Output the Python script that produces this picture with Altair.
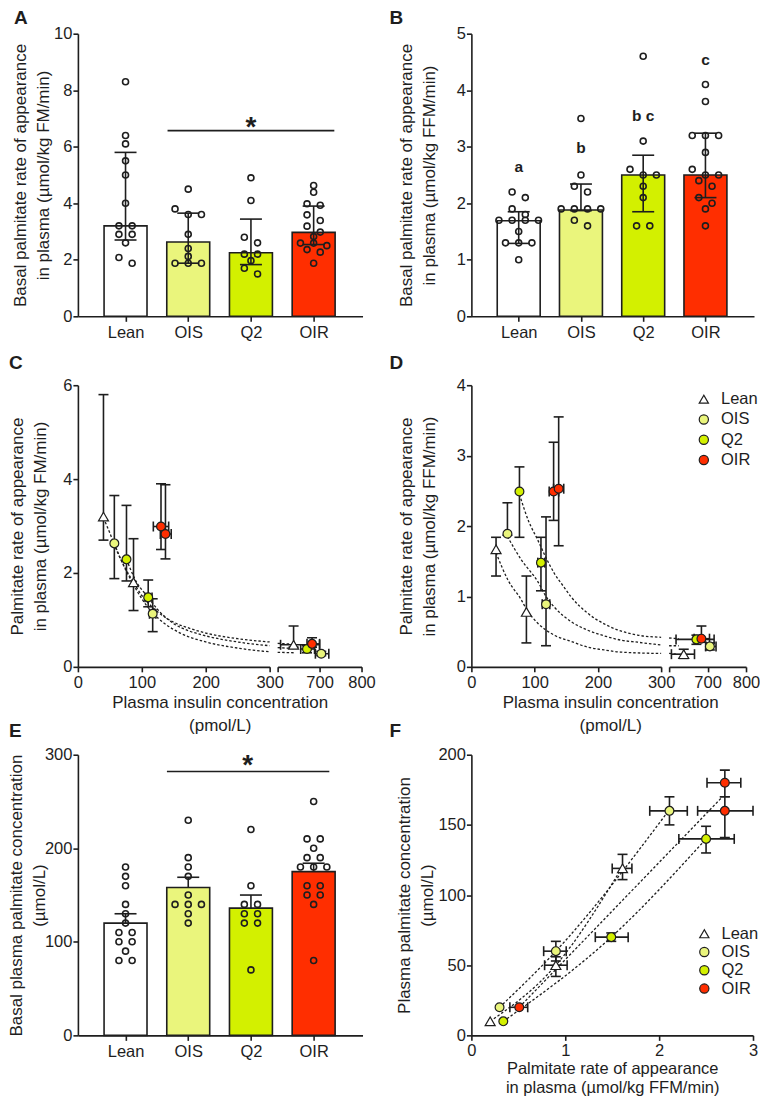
import altair as alt
import pandas as pd

# ------------------------------------------------------------------ data
groups = ["Lean", "OIS", "Q2", "OIR"]
group_fill = ["#FFFFFF", "#EAF57C", "#D3F000", "#FF2E00"]
group_shape = ["triangle-up", "circle", "circle", "circle"]
group_marker_size = [100, 78, 78, 78]

# Panel A: basal palmitate Ra (umol/kg FM/min), individual values, median + IQR
a_lean = [8.3, 6.4, 6.1, 5.5, 5.0, 4.0, 3.2, 3.2, 2.9, 2.9, 2.6, 2.08, 1.88]
a_ois = [4.5, 3.8, 3.6, 3.6, 2.9, 2.4, 2.12, 1.88, 1.88, 1.88]
a_q2 = [4.9, 4.1, 2.8, 2.6, 2.2, 2.2, 1.97, 1.7, 1.5]
a_oir = [4.63, 4.39, 3.98, 3.93, 3.59, 3.39, 3.19, 2.98, 2.82, 2.59, 2.59, 2.5, 2.36, 2.27, 1.88]
a_median = [3.2, 2.63, 2.25, 2.97]
a_q1 = [2.7, 1.88, 1.83, 2.54]
a_q3 = [5.8, 3.65, 3.44, 3.9]
a_sig = [0.67, 3.33, 6.57]     # x from, x to, y
a_star = [2.0, 6.95]

# Panel B: basal palmitate Ra (umol/kg FFM/min)
b_lean = [2.2, 2.1, 1.9, 1.8, 1.7, 1.7, 1.7, 1.7, 1.5, 1.3, 1.3, 1.3, 1.0]
b_ois = [3.5, 2.5, 2.3, 2.2, 1.9, 1.9, 1.9, 1.9, 1.7, 1.6]
b_q2 = [4.6, 3.1, 2.6, 2.5, 2.5, 2.3, 2.1, 1.6, 1.6]
b_oir = [4.1, 3.8, 3.2, 3.2, 3.2, 2.9, 2.6, 2.5, 2.5, 2.4, 2.3, 2.1, 2.0, 1.9, 1.6]
b_median = [1.69, 1.88, 2.5, 2.5]
b_q1 = [1.29, 1.87, 1.85, 2.1]
b_q3 = [1.85, 2.34, 2.85, 3.24]
b_letters = ["a", "b", "b c", "c"]
b_letter_y = [2.65, 2.97, 3.55, 4.53]

# Panel C: Ra (FM) vs plasma insulin, median and IQR
c_group = ["Lean", "Lean", "Lean", "OIS", "OIS", "OIS", "Q2", "Q2", "Q2", "OIR", "OIR", "OIR"]
c_x = [40, 87, 638, 57, 117, 704, 76, 110, 670, 130, 137, 682]
c_y = [3.2, 1.8, 0.47, 2.63, 1.13, 0.28, 2.29, 1.48, 0.38, 2.99, 2.83, 0.49]
c_ylo = [2.7, 1.2, 0.42, 1.88, 0.75, 0.24, 1.83, 1.28, 0.3, 2.5, 2.3, 0.42]
c_yhi = [5.8, 2.73, 0.87, 3.65, 1.45, 0.33, 3.44, 1.85, 0.45, 3.9, 3.88, 0.62]
c_xlo = [None, None, 607, None, 112, 690, None, 105, 655, 118, 129, 670]
c_xhi = [None, None, 700, None, 122, 722, None, 116, 688, 142, 146, 700]
c_curve_lean_x = [40, 50, 60, 75, 87, 100, 110, 125, 150, 175, 200, 250, 300, 600, 640]
c_curve_lean_y = [3.17, 2.85, 2.5, 2.08, 1.8, 1.52, 1.36, 1.17, 0.95, 0.82, 0.72, 0.6, 0.53, 0.5, 0.48]
c_curve_q2_x = [76, 90, 110, 125, 150, 175, 200, 250, 300, 600, 640]
c_curve_q2_y = [2.29, 1.85, 1.48, 1.22, 0.92, 0.76, 0.66, 0.53, 0.45, 0.41, 0.39]
c_curve_ois_x = [57, 70, 85, 100, 117, 135, 160, 200, 250, 300, 600, 640]
c_curve_ois_y = [2.63, 2.2, 1.8, 1.45, 1.15, 0.93, 0.72, 0.53, 0.4, 0.32, 0.31, 0.3]

# Panel D: Ra (FFM) vs plasma insulin
d_group = c_group
d_x = [39, 87, 638, 57, 118, 706, 76, 110, 671, 130, 138, 684]
d_y = [1.67, 0.78, 0.18, 1.89, 0.89, 0.29, 2.49, 1.48, 0.39, 2.49, 2.53, 0.4]
d_ylo = [1.29, 0.34, 0.12, 1.87, 0.3, 0.24, 1.84, 1.08, 0.32, 2.08, 1.72, 0.35]
d_yhi = [1.84, 1.29, 0.25, 2.33, 2.13, 0.34, 2.84, 1.84, 0.45, 3.19, 3.55, 0.58]
d_xlo = [None, None, 606, None, 112, 695, None, 105, 618, 123, 130, 665]
d_xhi = [None, None, 666, None, 124, 722, None, 116, 717, 138, 146, 705]
d_curve_q2_x = [76, 90, 105, 118, 131, 145, 158, 184, 210, 236, 263, 300, 600, 625]
d_curve_q2_y = [2.45, 2.08, 1.8, 1.55, 1.33, 1.15, 0.99, 0.76, 0.61, 0.51, 0.45, 0.42, 0.41, 0.4]
d_curve_ois_x = [57, 79, 105, 118, 131, 158, 184, 210, 236, 263, 300, 600, 625]
d_curve_ois_y = [1.85, 1.52, 1.21, 1.0, 0.85, 0.64, 0.52, 0.44, 0.38, 0.35, 0.31, 0.3, 0.3]
d_curve_lean_x = [39, 58, 79, 87, 105, 131, 158, 184, 210, 236, 300, 600, 620]
d_curve_lean_y = [1.62, 1.23, 0.95, 0.82, 0.62, 0.45, 0.36, 0.28, 0.24, 0.21, 0.19, 0.19, 0.18]

# Panel E: basal plasma palmitate (umol/L), mean + SEM
e_lean = [180, 170, 160, 140, 130, 120, 110, 110, 100, 100, 90, 80, 80]
e_ois = [230, 190, 180, 170, 150, 140, 140, 140, 130, 120]
e_q2 = [220, 160, 140, 140, 130, 130, 120, 120, 70]
e_oir = [250, 210, 210, 200, 190, 190, 180, 180, 180, 160, 160, 150, 150, 140, 80]
e_mean = [120, 158, 136, 175]
e_sem_top = [130, 169, 150, 184]
e_sig = [0.66, 3.25, 282]
e_star = [1.95, 296]

# Panel F: plasma palmitate vs Ra
f_group = ["Lean"] * 3 + ["OIS"] * 3 + ["Q2"] * 3 + ["OIR"] * 3
f_x = [0.2, 0.9, 1.61, 0.3, 0.9, 2.11, 0.34, 1.49, 2.5, 0.51, 2.7, 2.7]
f_y = [10, 50, 119, 20, 60, 160, 10, 70, 140, 20, 160, 180]
f_xlo = [None, 0.78, 1.5, None, 0.77, 1.9, None, 1.32, 2.21, 0.41, 2.41, 2.51]
f_xhi = [None, 1.02, 1.71, None, 1.01, 2.3, None, 1.67, 2.8, 0.6, 3.0, 2.87]
f_ylo = [None, 42, 111, None, 53, 150, None, 67, 130, None, 141, 170]
f_yhi = [None, 56, 129, None, 67, 170, None, 73, 149, None, 170, 189]
f_fit_lean_x = [0.2, 0.9, 1.6]
f_fit_lean_y = [10, 50, 119]
f_fit_ois_x = [0.3, 0.9, 2.1]
f_fit_ois_y = [20, 60, 160]
f_fit_q2_x = [0.34, 1.49, 2.5]
f_fit_q2_y = [10, 70, 140]
f_fit_oir_x = [0.51, 2.66]
f_fit_oir_y = [20, 169]

# ------------------------------------------------------------------ style
INK = "#1e1e1e"
FONT = "Liberation Sans"
LABEL_FS = 16.5
TITLE_FS = 17
LETTER_FS = 19
IDX_DOMAIN = [-0.68, 3.70]

fill_of = dict(zip(groups, group_fill))
shape_of = dict(zip(groups, group_shape))
size_of = dict(zip(groups, group_marker_size))


def one_row():
    return pd.DataFrame({"k": [0]})


def frame_layer(x1, x2, y1, y2):
    return alt.Chart(one_row()).mark_rect(opacity=0).encode(
        x=alt.value(x1), x2=alt.value(x2), y=alt.value(y1), y2=alt.value(y2))


def letter_layer(txt, x, y):
    return alt.Chart(one_row()).mark_text(
        align="left", baseline="top", fontSize=LETTER_FS, fontWeight="bold", color=INK
    ).encode(x=alt.value(x), y=alt.value(y), text=alt.value(txt))


def swarm(series, ppu, px_idx, thr=6.2, step=13.7):
    rows = []
    for gi, vals in enumerate(series):
        clusters = []
        for v in sorted(vals, reverse=True):
            if clusters and (clusters[-1][0] - v) * ppu < thr:
                clusters[-1].append(v)
            else:
                clusters.append([v])
        for cl in clusters:
            k = len(cl)
            for i, v in enumerate(cl):
                rows.append({"group": groups[gi],
                             "pos": gi + (i - (k - 1) / 2) * step / px_idx,
                             "value": v})
    return pd.DataFrame(rows)


def cat_expr():
    parts = [f"datum.value == {i} ? '{g}'" for i, g in enumerate(groups)]
    return " : ".join(parts) + " : ''"


def bar_panel(series, centre, lo, hi, ymax, ystep, ytitle, W, H, ytitle_x,
              box, letters, extra_fn, sem_only=False):
    px_idx = W / (IDX_DOMAIN[1] - IDX_DOMAIN[0])
    pts = swarm(series, H / ymax, px_idx)
    summ = pd.DataFrame({"group": groups, "pos": [0, 1, 2, 3], "centre": centre,
                         "lo": lo, "hi": hi, "fill": group_fill})
    xs = alt.Scale(domain=IDX_DOMAIN, nice=False, zero=False)
    ys = alt.Scale(domain=[0, ymax], nice=False)
    xa = alt.Axis(values=[0, 1, 2, 3], labelExpr=cat_expr(), title=None,
                  labelFlush=False, labelPadding=3)
    ya = alt.Axis(values=list(range(0, ymax + 1, ystep)), title=ytitle,
                  titleX=ytitle_x, titleY=H / 2, titleAngle=270, titleBaseline="top",
                  titleAlign="center", titleLineHeight=23, labelPadding=1)

    def X(f):
        return alt.X(f, type="quantitative", scale=xs, axis=xa)

    def Y(f):
        return alt.Y(f, type="quantitative", scale=ys, axis=ya)

    layers = [frame_layer(*box)]
    layers.append(alt.Chart(summ).mark_bar(size=43, stroke=INK, strokeWidth=1.6).encode(
        x=X("pos"), y=Y("centre"), fill=alt.Fill("fill:N", scale=None)))
    layers.append(alt.Chart(summ).mark_rule(color=INK, strokeWidth=1.6).encode(
        x=X("pos"), y=Y("centre" if sem_only else "lo"), y2=alt.Y2("hi")))
    cap_fields = ["hi"] if sem_only else ["lo", "hi"]
    layers.append(alt.Chart(summ).transform_fold(cap_fields, as_=["which", "v"]).mark_tick(
        orient="horizontal", size=22, thickness=1.6, color=INK, opacity=1).encode(
        x=X("pos"), y=Y("v")))
    layers.append(alt.Chart(pts).mark_point(
        shape="circle", filled=False, size=36, color=INK, strokeWidth=1.6, opacity=1).encode(
        x=X("pos"), y=Y("value")))
    layers += extra_fn(X, Y)
    layers += [letter_layer(*l) for l in letters]
    return alt.layer(*layers).properties(width=W, height=H)


def sig_layers(sig, star):
    def fn(X, Y):
        d = pd.DataFrame({"x1": [sig[0]], "x2": [sig[1]], "y": [sig[2]]})
        rule = alt.Chart(d).mark_rule(color=INK, strokeWidth=1.6).encode(
            x=X("x1"), x2=alt.X2("x2"), y=Y("y"))
        s = pd.DataFrame({"x": [star[0]], "y": [star[1]]})
        st = alt.Chart(s).mark_text(text="*", fontSize=28, fontWeight="bold",
                                    color=INK, dy=8).encode(x=X("x"), y=Y("y"))
        return [rule, st]
    return fn


def b_letter_layers(X, Y):
    d = pd.DataFrame({"pos": [0, 1, 2, 3], "y": b_letter_y, "t": b_letters})
    return [alt.Chart(d).mark_text(fontSize=15.5, fontWeight="bold", color=INK,
                                   baseline="middle").encode(x=X("pos"), y=Y("y"), text="t:N")]


def make_pts(g, x, y, ylo, yhi, xlo, xhi):
    df = pd.DataFrame({"group": g, "x": x, "y": y, "ylo": ylo, "yhi": yhi,
                       "xlo": xlo, "xhi": xhi})
    df["fill"] = df["group"].map(fill_of)
    df["shape"] = df["group"].map(shape_of)
    df["msize"] = df["group"].map(size_of)
    return df


def make_curves(items):
    return pd.concat([pd.DataFrame({"group": g, "x": xs, "y": ys}) for g, xs, ys in items],
                     ignore_index=True)


def make_legend(lx, ly, row_pad):
    return alt.Legend(title=None, orient="none", legendX=lx, legendY=ly, symbolSize=85,
                      symbolStrokeColor=INK, symbolStrokeWidth=1.2, labelFontSize=LABEL_FS,
                      labelColor=INK, labelOffset=9, rowPadding=row_pad, padding=0)


def scatter_segment(pts, curves, xdom, xvals, ydom, yvals, W, H, hide_first=False,
                    xtitle=None, xtitle_x=0, xtitle_y=28, xtitle_lh=23, xtitle_fs=TITLE_FS,
                    x_label_pad=3, ytitle=None, ytitle_x=0, show_y=True, legend=None,
                    pre=(), post=()):
    xs = alt.Scale(domain=xdom, nice=False, zero=False)
    ys = alt.Scale(domain=ydom, nice=False)
    xk = dict(values=xvals, labelFlush=False, labelPadding=x_label_pad)
    if hide_first:
        xk["labelExpr"] = f"datum.value == {xvals[0]} ? '' : datum.label"
    if xtitle:
        xk.update(title=xtitle, titleX=xtitle_x, titleY=xtitle_y, titleBaseline="top",
                  titleAlign="center", titleLineHeight=xtitle_lh, titleFontSize=xtitle_fs)
    else:
        xk["title"] = None
    xa = alt.Axis(**xk)
    if show_y:
        ya = alt.Axis(values=yvals, title=ytitle, titleX=ytitle_x, titleY=H / 2,
                      titleAngle=270, titleBaseline="top", titleAlign="center",
                      titleLineHeight=23, labelPadding=1)
    else:
        ya = None

    def X(f):
        return alt.X(f, type="quantitative", scale=xs, axis=xa)

    def Y(f):
        return alt.Y(f, type="quantitative", scale=ys, axis=ya)

    layers = list(pre)
    layers.append(alt.Chart(curves).mark_line(
        color=INK, strokeWidth=1.3, strokeDash=[2.5, 2], interpolate="monotone").encode(
        x=X("x"), y=Y("y"), detail="group:N", order="x:Q"))
    layers.append(alt.Chart(pts).transform_filter("isValid(datum.ylo)").mark_rule(
        color=INK, strokeWidth=1.6).encode(x=X("x"), y=Y("ylo"), y2=alt.Y2("yhi")))
    layers.append(alt.Chart(pts).transform_fold(["ylo", "yhi"], as_=["w", "v"])
                  .transform_filter("isValid(datum.v)").mark_tick(
        orient="horizontal", size=10, thickness=1.6, color=INK, opacity=1).encode(
        x=X("x"), y=Y("v")))
    layers.append(alt.Chart(pts).transform_filter("isValid(datum.xlo)").mark_rule(
        color=INK, strokeWidth=1.6).encode(x=X("xlo"), x2=alt.X2("xhi"), y=Y("y")))
    layers.append(alt.Chart(pts).transform_fold(["xlo", "xhi"], as_=["w", "v"])
                  .transform_filter("isValid(datum.v)").mark_tick(
        orient="vertical", size=10, thickness=1.6, color=INK, opacity=1).encode(
        x=X("v"), y=Y("y")))
    if legend is not None:
        enc = dict(
            fill=alt.Fill("group:N", scale=alt.Scale(domain=groups, range=group_fill), legend=legend),
            shape=alt.Shape("group:N", scale=alt.Scale(domain=groups, range=group_shape), legend=legend),
            stroke=alt.Stroke("group:N", scale=alt.Scale(domain=groups, range=[INK] * 4), legend=legend),
        )
    else:
        enc = dict(fill=alt.Fill("fill:N", scale=None), shape=alt.Shape("shape:N", scale=None))
    layers.append(alt.Chart(pts).mark_point(
        filled=True, stroke=INK, strokeWidth=1.2, opacity=1).encode(
        x=X("x"), y=Y("y"), size=alt.Size("msize:Q", scale=None), **enc))
    layers += list(post)
    return alt.layer(*layers).properties(width=W, height=H)


# ------------------------------------------------------------------ panels
panel_a = bar_panel([a_lean, a_ois, a_q2, a_oir], a_median, a_q1, a_q3, 10, 2,
                    ["Basal palmitate rate of appearance", "in plasma (\u00b5mol/kg FM/min)"],
                    285, 283, -65, (-69, 312, -25, 317), [("A", -64, -25)],
                    sig_layers(a_sig, a_star))

panel_b = bar_panel([b_lean, b_ois, b_q2, b_oir], b_median, b_q1, b_q3, 5, 1,
                    ["Basal palmitate rate of appearance", "in plasma (\u00b5mol/kg FFM/min)"],
                    283, 283, -73, (-82, 289, -25, 317), [("B", -82, -25)],
                    b_letter_layers)

panel_e = bar_panel([e_lean, e_ois, e_q2, e_oir], e_mean, e_mean, e_sem_top, 300, 100,
                    ["Basal plasma palmitate concentration", "(\u00b5mol/L)"],
                    285, 281, -69, (-69, 312, -13, 341), [],
                    sig_layers(e_sig, e_star), sem_only=True)

c_pts = make_pts(c_group, c_x, c_y, c_ylo, c_yhi, c_xlo, c_xhi)
c_curves = make_curves([("Lean", c_curve_lean_x, c_curve_lean_y),
                        ("Q2", c_curve_q2_x, c_curve_q2_y),
                        ("OIS", c_curve_ois_x, c_curve_ois_y)])
d_pts = make_pts(d_group, d_x, d_y, d_ylo, d_yhi, d_xlo, d_xhi)
d_curves = make_curves([("Lean", d_curve_lean_x, d_curve_lean_y),
                        ("Q2", d_curve_q2_x, d_curve_q2_y),
                        ("OIS", d_curve_ois_x, d_curve_ois_y)])
f_pts = make_pts(f_group, f_x, f_y, f_ylo, f_yhi, f_xlo, f_xhi)
f_curves = make_curves([("Lean", f_fit_lean_x, f_fit_lean_y),
                        ("OIS", f_fit_ois_x, f_fit_ois_y),
                        ("Q2", f_fit_q2_x, f_fit_q2_y),
                        ("OIR", f_fit_oir_x, f_fit_oir_y)])

insulin_title = ["Plasma insulin concentration", "(pmol/L)"]

c_left = scatter_segment(
    c_pts[c_pts.x <= 300], c_curves[c_curves.x <= 300], [0, 300], [0, 100, 200, 300],
    [0, 6], [0, 2, 4, 6], 192, 282, xtitle=insulin_title, xtitle_x=142,
    ytitle=["Palmitate rate of appearance", "in plasma (\u00b5mol/kg FM/min)"], ytitle_x=-68,
    pre=[frame_layer(-69, 312, -35, 357)],
    post=[letter_layer("C", -69, -31), letter_layer("E", -69, 337.6)])
c_right = scatter_segment(
    c_pts[c_pts.x >= 600], c_curves[c_curves.x >= 600], [600, 800], [600, 700, 800],
    [0, 6], [0, 2, 4, 6], 84, 282, hide_first=True, show_y=False)

d_left = scatter_segment(
    d_pts[d_pts.x <= 300], d_curves[d_curves.x <= 300], [0, 300], [0, 100, 200, 300],
    [0, 4], [0, 1, 2, 3, 4], 190, 282, xtitle=insulin_title, xtitle_x=139,
    ytitle=["Palmitate rate of appearance", "in plasma (\u00b5mol/kg FFM/min)"], ytitle_x=-73,
    legend=make_legend(224.5, 5.75, 3.3),
    pre=[frame_layer(-82, 289, -35, 357)],
    post=[letter_layer("D", -82, -31), letter_layer("F", -82, 337.6)])
d_right = scatter_segment(
    d_pts[d_pts.x >= 600], d_curves[d_curves.x >= 600], [600, 800], [600, 700, 800],
    [0, 4], [0, 1, 2, 3, 4], 77, 282, hide_first=True, show_y=False)

panel_f = scatter_segment(
    f_pts, f_curves, [0, 3], [0, 1, 2, 3], [0, 200], [0, 50, 100, 150, 200], 282, 281,
    xtitle=["Palmitate rate of appearance", "in plasma (\u00b5mol/kg FFM/min)"],
    xtitle_x=141, xtitle_y=25, xtitle_lh=19, xtitle_fs=16.5, x_label_pad=2,
    ytitle=["Plasma palmitate concentration", "(\u00b5mol/L)"], ytitle_x=-75,
    legend=make_legend(225, 171, 1.3),
    pre=[frame_layer(-82, 289, -13, 341)])

indep = dict(fill="independent", shape="independent", stroke="independent")
panel_c = alt.hconcat(c_left, c_right, spacing=8, bounds="flush")
panel_d = alt.hconcat(d_left, d_right, spacing=8, bounds="flush").resolve_scale(**indep)

row1 = alt.hconcat(panel_a, panel_b, spacing=0)
row2 = alt.hconcat(panel_c, panel_d, spacing=0).resolve_scale(**indep)
row3 = alt.hconcat(panel_e, panel_f, spacing=0).resolve_scale(**indep)

chart = alt.vconcat(row1, row2, row3, spacing=0).resolve_scale(**indep).properties(padding=0)
chart = chart.configure(font=FONT).configure_view(stroke=None).configure_axis(
    domainColor=INK, domainWidth=1.6, tickColor=INK, tickWidth=1.6, tickSize=5,
    labelColor=INK, labelFontSize=LABEL_FS, titleColor=INK, titleFontSize=TITLE_FS,
    titleFontWeight="normal", grid=False, labelFlush=False)

chart.save("out.html", embed_options={"renderer": "svg", "actions": False})
